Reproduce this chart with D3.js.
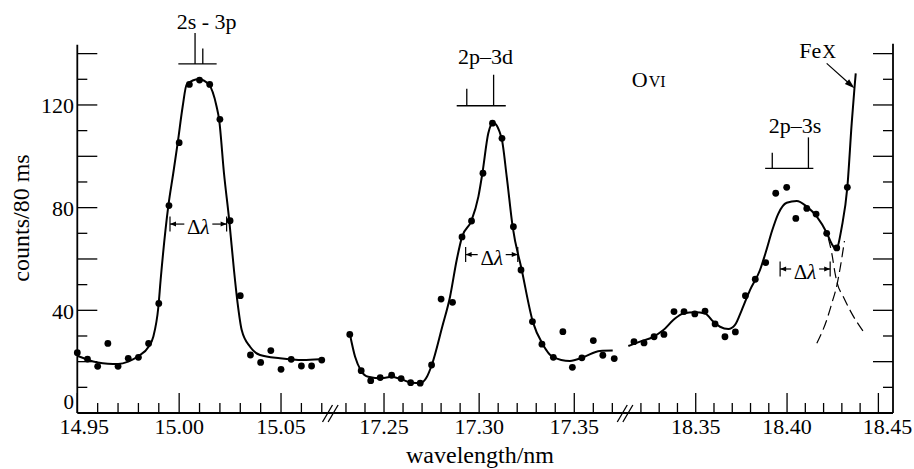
<!DOCTYPE html>
<html>
<head>
<meta charset="utf-8">
<script src="https://cdn.jsdelivr.net/npm/d3@7"></script>
<style>
body { margin: 0; background: #fff; }
text { font-family: "Liberation Serif", "DejaVu Serif", serif; fill: #000; }
</style>
</head>
<body>
<div id="chart"></div>
<script>
w = 914;
h = 469;

// broken wavelength axis (nm): three ranges
var segStart = [14.95, 17.2225, 18.3115];
var segEnd = [15.0735, 17.3765, 18.458];
var segTickFirst = [1495, 1723, 1832];   // hundredths of nm
var segTickLast = [1507, 1737, 1845];
var xTickLabels = ["14.95", "15.00", "15.05", "17.25", "17.30", "17.35", "18.35", "18.40", "18.45"];
var xTickLabelValues = [14.95, 15.00, 15.05, 17.25, 17.30, 17.35, 18.35, 18.40, 18.45];

var yTickValues = [0, 10, 20, 30, 40, 50, 60, 70, 80, 90, 100, 110, 120, 130, 140];
var yTickLabels = [0, 40, 80, 120];
var yMax = 143.5;

// measured counts, 2s-3p
var wl1 = [14.950, 14.955, 14.960, 14.965, 14.970, 14.975, 14.980, 14.985, 14.990, 14.995,
  15.000, 15.005, 15.010, 15.015, 15.020, 15.025, 15.030, 15.035, 15.040, 15.045,
  15.050, 15.055, 15.060, 15.065, 15.070];
var counts1 = [23.5, 21.0, 18.2, 27.1, 18.2, 21.3, 21.7, 27.1, 42.7, 80.8,
  105.3, 128.0, 129.7, 128.0, 114.4, 74.9, 45.7, 22.6, 19.7, 24.3,
  17.0, 20.9, 18.3, 18.3, 20.6];
var fitWl1 = [14.950, 14.955, 14.960, 14.965, 14.970, 14.975, 14.980, 14.985, 14.9873, 14.9898,
  14.9909, 14.9947, 14.9971, 14.9993, 15.0017, 15.0037, 15.0096, 15.0145, 15.0184, 15.0196,
  15.0220, 15.0246, 15.0269, 15.0287, 15.0307, 15.0348, 15.0397, 15.0495, 15.0608, 15.0691];
var fitCounts1 = [22.3, 20.8, 19.7, 19.2, 19.1, 20.0, 22.2, 25.8, 29.7, 41.4,
  51.8, 80.8, 93.4, 105.3, 119.3, 128.0, 130.0, 128.0, 119.3, 114.4,
  93.4, 74.9, 55.7, 42.7, 32.3, 25.8, 22.6, 21.3, 20.6, 20.9];

// measured counts, 2p-3d
var wl2 = [17.232, 17.238, 17.243, 17.248, 17.254, 17.259, 17.264, 17.269, 17.275, 17.280,
  17.286, 17.291, 17.296, 17.302, 17.307, 17.312, 17.318, 17.322, 17.328, 17.333,
  17.339, 17.344, 17.349, 17.354, 17.360, 17.365, 17.371];
var counts2 = [30.6, 16.5, 12.6, 13.8, 14.7, 13.4, 11.8, 11.6, 18.7, 44.4,
  43.1, 68.6, 74.8, 93.4, 112.9, 107.0, 72.6, 55.7, 35.6, 26.8,
  21.7, 31.7, 17.8, 21.5, 28.2, 22.5, 21.2];
var fitWl2 = [17.2321, 17.2348, 17.2379, 17.2417, 17.2488, 17.2540, 17.2593, 17.2646, 17.2694, 17.2724,
  17.2751, 17.2806, 17.2847, 17.2882, 17.2910, 17.2959, 17.2996, 17.3017, 17.3048, 17.3074,
  17.3118, 17.3145, 17.3176, 17.3224, 17.3283, 17.3334, 17.3386, 17.3477, 17.3547, 17.3635, 17.3702];
var fitCounts2 = [30.6, 21.9, 16.5, 14.1, 13.5, 14.1, 13.1, 11.8, 11.7, 13.9,
  18.7, 33.6, 45.3, 59.6, 68.6, 74.8, 84.3, 93.4, 109.0, 113.1,
  107.0, 92.0, 72.6, 55.7, 35.3, 26.8, 21.9, 20.3, 21.7, 24.2, 24.3];

// measured counts, 2p-3s and Fe X
var wl3 = [18.3162, 18.3217, 18.3272, 18.3326, 18.3381, 18.3436, 18.3495, 18.3551, 18.3606, 18.3660,
  18.3717, 18.3772, 18.3826, 18.3883, 18.3938, 18.3998, 18.4048, 18.4108, 18.4159, 18.4217,
  18.4272, 18.4330];
var counts3 = [27.8, 27.3, 29.7, 30.6, 39.5, 39.5, 38.6, 39.7, 34.7, 29.7,
  31.6, 45.7, 52.1, 58.6, 85.6, 87.9, 75.8, 79.7, 77.5, 70.0,
  64.3, 87.9];
var fitWl3 = [18.3131, 18.3195, 18.3268, 18.3323, 18.3377, 18.3432, 18.3496, 18.3551, 18.3596, 18.3633,
  18.3679, 18.3715, 18.3752, 18.3797, 18.3852, 18.3885, 18.3918, 18.3951, 18.3998, 18.4053,
  18.4108, 18.4163, 18.4217, 18.4245, 18.4268, 18.4300, 18.4330, 18.4354, 18.4369, 18.4376];
var fitCounts3 = [26.1, 27.8, 29.7, 32.3, 36.2, 38.8, 39.2, 38.8, 35.6, 33.6,
  32.7, 34.3, 40.1, 47.9, 55.7, 63.0, 71.0, 77.5, 81.9, 82.6,
  80.4, 76.5, 70.2, 65.8, 63.8, 72.6, 87.9, 112.9, 126.5, 132.3];
// separated components (dashed)
var oviTailWl = [18.4226, 18.4245, 18.4263, 18.4275, 18.4308, 18.4354, 18.4422];
var oviTailCounts = [68.0, 62.2, 54.4, 50.5, 45.3, 38.8, 31.3];
var fexTailWl = [18.4163, 18.4217, 18.4245, 18.4275, 18.4292, 18.4314];
var fexTailCounts = [27.2, 36.2, 42.7, 50.5, 57.0, 67.0];

// transition markers
var transLabels = ["2s - 3p", "2p\u20133d", "2p\u20133s"];
var transLabelWl = [15.0135, 17.3033, 18.4044];
var transLabelCounts = [149.6, 136.0, 109.0];
var transBarFrom = [14.9996, 17.2882, 18.3880];
var transBarTo = [15.0184, 17.3140, 18.4144];
var transBarCounts = [136.0, 119.7, 95.3];
var transLineWl = [[15.0078, 15.0116], [17.2935, 17.3076], [18.3919, 18.4117]];
var transLineStrength = [[1, 0.5], [0.55, 1], [0.5, 1]];

// line widths (delta lambda)
var dlFrom = [14.9955, 17.2929, 18.3962];
var dlTo = [15.0233, 17.3203, 18.4236];
var dlCounts = [73.6, 61.7, 56.1];

var left = 77.3, right = 893, bottom = 413;
var segPx = [[77.3, 328.9], [331.7, 624.7], [625.4, 893]];

var svg = d3.select("#chart")
  .append("svg")
  .attr("width", w)
  .attr("height", h);

var xs = segStart.map(function (s, i) {
  return d3.scaleLinear().domain([s, segEnd[i]]).range(segPx[i]);
});
function x(wl) {
  for (var i = 0; i < 3; i++) {
    if (wl >= segStart[i] - 1e-6 && wl <= segEnd[i] + 1e-6) return xs[i](wl);
  }
  return xs[2](wl);
}
var y = d3.scaleLinear().domain([0, yMax]).range([bottom, bottom - yMax * 2.567]);

//
// Axes
//
var axes = svg.append("g").attr("stroke", "#000").attr("fill", "none");
axes.append("line").attr("x1", left).attr("x2", left).attr("y1", bottom).attr("y2", y(yMax)).attr("stroke-width", 1.8);
axes.append("line").attr("x1", right).attr("x2", right).attr("y1", bottom).attr("y2", y(yMax) - 1).attr("stroke-width", 1.8);
axes.append("line").attr("x1", left).attr("x2", right).attr("y1", bottom).attr("y2", bottom).attr("stroke-width", 1.8);

yTickValues.forEach(function (v) {
  if (v === 0) return;
  var len = v % 20 === 0 ? 20 : 10;
  axes.append("line").attr("x1", left).attr("x2", left + len).attr("y1", y(v)).attr("y2", y(v)).attr("stroke-width", 1.3);
  axes.append("line").attr("x1", right).attr("x2", right - len).attr("y1", y(v)).attr("y2", y(v)).attr("stroke-width", 1.3);
});

for (var s = 0; s < 3; s++) {
  d3.range(segTickFirst[s], segTickLast[s] + 1).forEach(function (k) {
    var px = xs[s](k / 100);
    var len = k % 5 === 0 ? 20 : 10;
    axes.append("line").attr("x1", px).attr("x2", px).attr("y1", bottom).attr("y2", bottom - len).attr("stroke-width", 1.3);
  });
}

// axis breaks
[(segPx[0][1] + segPx[1][0]) / 2, (segPx[1][1] + segPx[2][0]) / 2].forEach(function (cx) {
  [-2.8, 2.8].forEach(function (dx) {
    axes.append("line")
      .attr("x1", cx + dx - 5).attr("y1", bottom + 9)
      .attr("x2", cx + dx + 5).attr("y2", bottom - 8)
      .attr("stroke-width", 1.3);
  });
});

svg.selectAll("text.xtick")
  .data(xTickLabels)
  .enter().append("text")
  .attr("class", "xtick")
  .attr("x", function (d, i) {
    var px = x(xTickLabelValues[i]);
    if (i === 0) px += 7;
    if (i === xTickLabels.length - 1) px += 9;
    return px;
  })
  .attr("y", 434)
  .attr("text-anchor", "middle")
  .attr("font-size", "22px")
  .text(function (d) { return d; });

svg.selectAll("text.ytick")
  .data(yTickLabels)
  .enter().append("text")
  .attr("class", "ytick")
  .attr("x", 74)
  .attr("y", function (d) { return d === 0 ? bottom - 4 : y(d) + 8.5; })
  .attr("text-anchor", "end")
  .attr("font-size", function (d) { return d === 0 ? "21px" : "22px"; })
  .text(function (d) { return d; });

svg.append("text")
  .attr("x", 480).attr("y", 463)
  .attr("text-anchor", "middle")
  .attr("font-size", "24px")
  .text("wavelength/nm");

svg.append("text")
  .attr("transform", "translate(28.5,218) rotate(-90)")
  .attr("text-anchor", "middle")
  .attr("font-size", "24px")
  .text("counts/80 ms");

//
// Fitted curves
//
var line = d3.line()
  .x(function (d) { return x(d[0]); })
  .y(function (d) { return y(d[1]); })
  .curve(d3.curveMonotoneX);

[[fitWl1, fitCounts1], [fitWl2, fitCounts2], [fitWl3, fitCounts3]].forEach(function (f) {
  svg.append("path")
    .datum(d3.zip(f[0], f[1]))
    .attr("d", line)
    .attr("fill", "none")
    .attr("stroke", "#000")
    .attr("stroke-width", 2);
});

[[oviTailWl, oviTailCounts], [fexTailWl, fexTailCounts]].forEach(function (f) {
  svg.append("path")
    .datum(d3.zip(f[0], f[1]))
    .attr("d", line)
    .attr("fill", "none")
    .attr("stroke", "#000")
    .attr("stroke-width", 1.2)
    .attr("stroke-dasharray", "10,5");
});

//
// Measured points
//
var pts = d3.zip(wl1, counts1).concat(d3.zip(wl2, counts2)).concat(d3.zip(wl3, counts3));
svg.selectAll("circle")
  .data(pts)
  .enter().append("circle")
  .attr("cx", function (d) { return x(d[0]); })
  .attr("cy", function (d) { return y(d[1]); })
  .attr("r", 3.4)
  .attr("fill", "#000");

//
// Transition markers
//
transLabels.forEach(function (lab, i) {
  var by = y(transBarCounts[i]);
  svg.append("line")
    .attr("x1", x(transBarFrom[i])).attr("x2", x(transBarTo[i]))
    .attr("y1", by).attr("y2", by)
    .attr("stroke", "#000").attr("stroke-width", 1.3);
  transLineWl[i].forEach(function (wl, j) {
    svg.append("line")
      .attr("x1", x(wl)).attr("x2", x(wl))
      .attr("y1", by).attr("y2", by - 31 * transLineStrength[i][j])
      .attr("stroke", "#000").attr("stroke-width", 1.3);
  });
  svg.append("text")
    .attr("x", x(transLabelWl[i]))
    .attr("y", y(transLabelCounts[i]))
    .attr("text-anchor", "middle")
    .attr("font-size", "22px")
    .text(lab);
});

//
// Delta lambda markers
//
dlFrom.forEach(function (wl, i) {
  var x0 = x(wl), x1 = x(dlTo[i]), yy = y(dlCounts[i]), xm = (x0 + x1) / 2;
  var g = svg.append("g").attr("stroke", "#000").attr("stroke-width", 1.2);
  g.append("line").attr("x1", x0).attr("x2", x0).attr("y1", yy - 7.5).attr("y2", yy + 7.5);
  g.append("line").attr("x1", x1).attr("x2", x1).attr("y1", yy - 7.5).attr("y2", yy + 7.5);
  g.append("line").attr("x1", x0).attr("x2", xm - 14).attr("y1", yy).attr("y2", yy);
  g.append("line").attr("x1", xm + 14).attr("x2", x1).attr("y1", yy).attr("y2", yy);
  g.append("path")
    .attr("d", "M" + x0 + "," + yy + "L" + (x0 + 6) + "," + (yy - 2.5) + "L" + (x0 + 6) + "," + (yy + 2.5) + "Z")
    .attr("fill", "#000").attr("stroke", "none");
  g.append("path")
    .attr("d", "M" + x1 + "," + yy + "L" + (x1 - 6) + "," + (yy - 2.5) + "L" + (x1 - 6) + "," + (yy + 2.5) + "Z")
    .attr("fill", "#000").attr("stroke", "none");
  var t = svg.append("text")
    .attr("x", xm).attr("y", yy + 10)
    .attr("text-anchor", "middle")
    .attr("font-size", "21px");
  t.append("tspan").text("\u0394");
  t.append("tspan").attr("font-style", "italic").text("\u03bb");
});

//
// Ion labels and arrow
//
var ovi = svg.append("text")
  .attr("x", x(18.315)).attr("y", y(127.1))
  .attr("font-size", "22px");
ovi.append("tspan").text("O");
ovi.append("tspan").attr("font-size", "16px").attr("dx", 1).text("VI");

var fex = svg.append("text")
  .attr("x", x(18.4167)).attr("y", y(138.2))
  .attr("text-anchor", "middle")
  .attr("font-size", "22px");
fex.append("tspan").text("Fe");
fex.append("tspan").attr("font-size", "19px").attr("dx", 1).text("X");

var ax0 = x(18.4217), ay0 = y(136.2), ax1 = x(18.4369), ay1 = y(126.5);
var ang = Math.atan2(ay1 - ay0, ax1 - ax0);
svg.append("line")
  .attr("x1", ax0).attr("y1", ay0)
  .attr("x2", ax1 - 6 * Math.cos(ang)).attr("y2", ay1 - 6 * Math.sin(ang))
  .attr("stroke", "#000").attr("stroke-width", 1.2);
var hl = 10, hw = 3.2;
svg.append("path")
  .attr("d", "M" + ax1 + "," + ay1 +
    "L" + (ax1 - hl * Math.cos(ang) + hw * Math.sin(ang)) + "," + (ay1 - hl * Math.sin(ang) - hw * Math.cos(ang)) +
    "L" + (ax1 - hl * Math.cos(ang) - hw * Math.sin(ang)) + "," + (ay1 - hl * Math.sin(ang) + hw * Math.cos(ang)) + "Z")
  .attr("fill", "#000");
</script>
</body>
</html>
